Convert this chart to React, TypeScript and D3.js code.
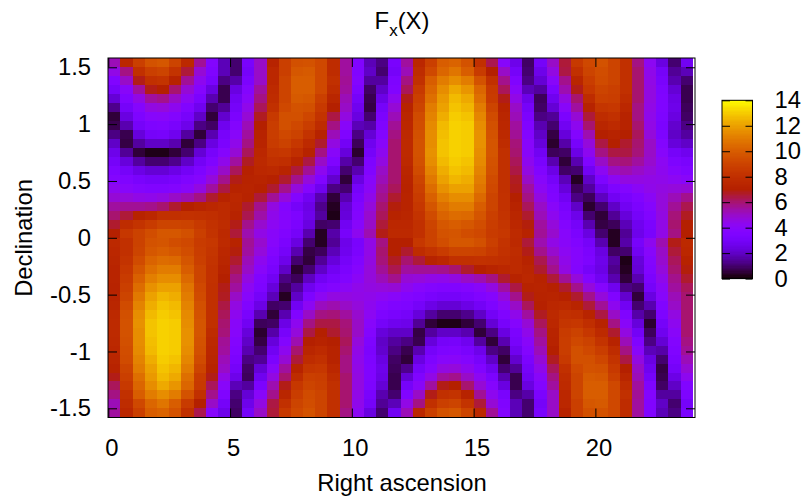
import {useEffect, useRef} from "react";
import * as d3 from "d3";

const title = "F";
const titleSub = "x";
const titleEnd = "(X)";
const xLabel = "Right ascension";
const yLabel = "Declination";

const xTicks = [0, 5, 10, 15, 20];
const yTicks = [-1.5, -1, -0.5, 0, 0.5, 1, 1.5];
const cbTicks = [0, 2, 4, 6, 8, 10, 12, 14];

// north to south, 0h to 24h
const fxRows = [
  [5.2,7.5,8.8,9.6,9.8,9,7.6,5.6,3.7,1.8,1,3.2,5,7.2,8.8,9.5,9.6,9.2,7.8,5.5,3.6,1.8,1.2,3.2,5.5,7.5,8.8,10,10.2,9.6,8,6.3,3.9,2.6,0.9,3,5,6.5,8.5,9.2,9.6,9,8,5.8,4.2,2.4,1,2.8],
  [4.5,5.8,8,8.8,9,8.2,6.5,4.8,3.5,1.8,1,3,5,7.5,8.8,9.8,9.9,9.2,7.8,5.5,3.6,2,1,3,5.2,7.8,9.2,10.3,10.8,10,8.6,7,5,3,1,2.6,4.6,6.4,8,9,9.4,9,8,6,4.4,3,1.4,1.8],
  [3.6,5,6.8,8,8.2,7.2,5.6,4.3,3.2,1.2,1.6,3.3,5,7.5,9,10,10,9.2,8,5.6,3.7,1.5,1.5,3.4,5.8,8,10,11,11.5,11,9.6,8,5.7,3.5,1.2,2.2,4,5.7,7.4,8.7,9.3,9,8,6,4.5,3.2,1.7,1],
  [3,4,5.5,6.8,7,6,4.8,3.8,2.4,0.7,2.4,3.7,5.5,7.7,9,10,10,9.2,7.8,5.5,3.4,0.9,2,3.6,6.2,8.5,10.3,11.5,12.2,11.7,10.3,8.5,6.2,4,1.8,1.5,3.3,5.3,6.8,8.4,9,8.8,8,6,4.6,3.4,2.2,0.7],
  [2.2,3.5,4.5,5.5,5.7,5,4.2,3.3,1.7,0.7,2.8,4,5.8,7.8,9,9.9,9.8,8.8,7.4,5.2,3,0.7,2.5,4.3,6.8,8.8,10.6,11.8,12.6,12.2,10.6,8.6,6.8,4.5,2.6,0.8,2.7,4.6,6,7.8,8.8,8.7,7.8,6,4.6,3.5,2.5,0.7],
  [1.3,3,3.8,4.6,4.7,4.3,3.6,2.7,1,1.4,3,4.4,6.2,8,9.2,9.6,9.5,8.5,7,5,2.7,0.6,3,4.8,7.2,9,11,12,12.8,12.5,11,9,7.2,5,3,0.9,2.2,4,5.5,7.2,8.3,8.4,7.5,5.8,4.5,3.5,2.6,0.8],
  [0.5,2.4,3.4,3.9,4,3.7,3.1,2,0.5,2.1,3.3,4.8,6.7,8.5,9.5,9.5,9.1,8.2,6.4,4.6,2.4,1,3.3,5.2,7.4,9.3,11.2,12.3,13,12.8,11.3,9.3,7.4,5.2,3.3,1.2,1.4,3.3,4.8,6.5,7.8,8,7.2,5.8,4.4,3.4,2.4,0.9],
  [0.7,1.7,3,3.4,3.5,3.2,2.6,1.2,0.9,2.7,3.7,5.2,7,8.7,9.5,9.2,8.7,7.8,5.8,4,1.8,1.6,3.5,5.6,7.5,9.4,11.4,12.6,13.1,13,11.5,9.5,7.5,5.5,3.5,1.7,1,2.8,4.3,6,7.4,7.7,7.2,6,4.5,3.3,2.1,1.2],
  [1.2,0.7,2.3,3,3.1,2.7,1.5,0.5,1.7,3.1,4,5.5,7.2,8.7,9.2,8.9,8.2,7.2,5.2,3.5,1.2,2.2,3.7,5.8,7.6,9.5,11.5,12.7,13.1,13,11.6,9.6,7.6,5.6,3.7,2,0.6,2.3,3.7,5.3,7,7.2,7,6.2,4.7,3.4,2,1.5],
  [2,0.6,1.5,2,2,1.7,0.5,1.2,2.4,3.3,4.4,5.8,7.3,8.6,8.9,8.4,7.7,6.6,4.6,2.9,0.8,2.7,4,6,7.7,9.6,11.5,12.8,13.1,13,11.6,9.7,7.8,5.9,3.9,2.3,0.4,1.6,3.1,4.7,6.4,7,6.6,6,5,3.7,2.3,2],
  [2.6,1.4,0.5,0.2,0.2,0.5,1,2.2,3.1,3.8,4.8,6.2,7.5,8.3,8.4,7.9,7.2,5.8,4,2.3,0.4,3,4.3,6,7.7,9.6,11.6,12.8,13.1,13,11.5,9.7,8,6,4,2.8,0.8,0.9,2.5,4.3,5.8,6.4,6.4,5.9,5,3.9,3,2.7],
  [3,2.3,1.5,1,1,1.3,2,2.9,3.5,4.4,5.5,6.7,7.6,8,7.9,7.3,6.4,5,3.5,1.6,1,3.4,4.6,6,7.6,9.5,11.5,12.6,13,12.8,11.4,9.6,8,6.2,4.3,3.2,1.7,0.5,1.7,3.6,5,5.8,5.9,5.5,4.9,4.2,3.4,3.2],
  [3.4,3,2.5,2.2,2.2,2.5,2.9,3.4,4.1,5,6.2,7.1,7.5,7.6,7.3,6.5,5.6,4.3,2.8,1,1.7,3.6,5,6,7.4,9.3,11.2,12.3,12.8,12.6,11.2,9.5,8,6.4,4.6,3.6,2.5,0.9,1,2.8,4.2,5.1,5.3,5,4.7,4.3,3.8,3.5],
  [3.7,3.5,3.2,3,3,3.2,3.5,3.8,4.7,5.7,6.8,7.2,7.3,7.1,6.6,5.7,4.7,3.6,2.1,0.5,2.4,3.9,5.2,6,7.3,9,10.9,12,12.5,12.3,11,9.3,8,6.7,5,3.9,3,1.8,0.3,2,3.4,4.2,4.6,4.6,4.5,4.4,4.2,4],
  [4.3,3.9,3.7,3.6,3.6,3.7,4,4.6,5.5,6.4,7.2,7.3,7.1,6.6,5.7,4.7,3.8,2.7,1.2,1,3,4.1,5.5,6.2,7.2,8.8,10.5,11.6,12,12,10.8,9.2,8,6.8,5.5,4.2,3.4,2.3,0.8,1.5,2.7,3.4,3.7,4.1,4.4,4.6,4.7,4.8],
  [4.8,4.7,4.5,4.4,4.6,5,5.3,5.8,6.6,7.2,7.5,7.2,6.5,5.6,4.7,3.7,2.8,1.7,0.5,1.7,3.3,4.4,5.7,6.6,7.3,8.6,10.1,11.1,11.5,11.5,10.4,9,8.1,7,5.8,4.6,3.6,2.8,1.2,0.8,1.9,2.8,3.2,3.6,4.1,4.7,5.2,5.7],
  [5.5,5.6,5.6,5.7,6,6.6,7,7.3,7.5,7.7,7.4,6.6,5.7,4.6,3.7,3,2.5,1.3,0.3,2.2,3.6,4.7,6,6.9,7.3,8.4,9.7,10.6,11,11,10,9,8.1,7.2,6.2,5,4,3.2,2,0.4,1,2,2.8,3.3,3.8,4.7,5.6,6.3],
  [6,6.5,7.2,7.5,8,8,8.1,8,7.9,7.7,7.2,6.3,5.4,4.4,3.8,3.4,2.6,1.5,0.2,2.3,3.7,4.9,6.2,7.2,7.4,8.2,9.3,10.2,10.5,10.4,9.7,8.8,8.2,7.4,6.6,5.2,4.3,3.4,2.6,1,0.5,1.4,2.3,3,3.6,4.6,5.9,6.7],
  [6.6,7.8,8.2,8.6,9,9,8.9,8.5,8.1,7.8,6.8,5.7,4.9,4.2,3.8,3.3,2.4,0.9,1,2.8,3.9,5,6.5,7.5,7.5,8,9,9.8,10,9.8,9.4,8.7,8.3,7.5,6.9,5.5,4.7,3.7,3,1.7,0.6,0.8,1.8,2.7,3.3,4.5,6,7],
  [7,8.4,8.9,9.4,9.8,9.8,9.5,8.8,8.2,7.6,6.5,5.3,4.5,4,3.6,3,1.7,0.3,1.6,3.1,4.3,5.3,6.8,7.6,7.6,8,8.9,9.6,9.7,9.4,9.2,8.6,8.4,7.7,7.2,5.6,4.9,3.9,3.3,2.4,1,0.3,1.4,2.6,3.2,4.5,5.8,7],
  [7.6,8,8.9,9.6,9.7,9.4,9.2,8.6,8.4,7.7,7.2,5.6,4.9,3.9,3.3,2.4,1,0.3,1.4,2.6,3.2,4.5,5.8,7,7,8.4,8.9,9.4,9.8,9.8,9.5,8.8,8.2,7.6,6.5,5.3,4.5,4,3.6,3,1.7,0.3,1.6,3.1,4.3,5.3,6.8,7.6],
  [7.5,8,9,9.8,10,9.8,9.4,8.7,8.3,7.5,6.9,5.5,4.7,3.7,3,1.7,0.6,0.8,1.8,2.7,3.3,4.5,6,7,6.6,7.8,8.2,8.6,9,9,8.9,8.5,8.1,7.8,6.8,5.7,4.9,4.2,3.8,3.3,2.4,0.9,1,2.8,3.9,5,6.5,7.5],
  [7.4,8.2,9.3,10.2,10.5,10.4,9.7,8.8,8.2,7.4,6.6,5.2,4.3,3.4,2.6,1,0.5,1.4,2.3,3,3.6,4.6,5.9,6.7,6,6.5,7.2,7.5,8,8,8.1,8,7.9,7.7,7.2,6.3,5.4,4.4,3.8,3.4,2.6,1.5,0.2,2.3,3.7,4.9,6.2,7.2],
  [7.3,8.4,9.7,10.6,11,11,10,9,8.1,7.2,6.2,5,4,3.2,2,0.4,1,2,2.8,3.3,3.8,4.7,5.6,6.3,5.5,5.6,5.6,5.7,6,6.6,7,7.3,7.5,7.7,7.4,6.6,5.7,4.6,3.7,3,2.5,1.3,0.3,2.2,3.6,4.7,6,6.9],
  [7.3,8.6,10.1,11.1,11.5,11.5,10.4,9,8.1,7,5.8,4.6,3.6,2.8,1.2,0.8,1.9,2.8,3.2,3.6,4.1,4.7,5.2,5.7,4.8,4.7,4.5,4.4,4.6,5,5.3,5.8,6.6,7.2,7.5,7.2,6.5,5.6,4.7,3.7,2.8,1.7,0.5,1.7,3.3,4.4,5.7,6.6],
  [7.2,8.8,10.5,11.6,12,12,10.8,9.2,8,6.8,5.5,4.2,3.4,2.3,0.8,1.5,2.7,3.4,3.7,4.1,4.4,4.6,4.7,4.8,4.3,3.9,3.7,3.6,3.6,3.7,4,4.6,5.5,6.4,7.2,7.3,7.1,6.6,5.7,4.7,3.8,2.7,1.2,1,3,4.1,5.5,6.2],
  [7.3,9,10.9,12,12.5,12.3,11,9.3,8,6.7,5,3.9,3,1.8,0.3,2,3.4,4.2,4.6,4.6,4.5,4.4,4.2,4,3.7,3.5,3.2,3,3,3.2,3.5,3.8,4.7,5.7,6.8,7.2,7.3,7.1,6.6,5.7,4.7,3.6,2.1,0.5,2.4,3.9,5.2,6],
  [7.4,9.3,11.2,12.3,12.8,12.6,11.2,9.5,8,6.4,4.6,3.6,2.5,0.9,1,2.8,4.2,5.1,5.3,5,4.7,4.3,3.8,3.5,3.4,3,2.5,2.2,2.2,2.5,2.9,3.4,4.1,5,6.2,7.1,7.5,7.6,7.3,6.5,5.6,4.3,2.8,1,1.7,3.6,5,6],
  [7.6,9.5,11.5,12.6,13,12.8,11.4,9.6,8,6.2,4.3,3.2,1.7,0.5,1.7,3.6,5,5.8,5.9,5.5,4.9,4.2,3.4,3.2,3,2.3,1.5,1,1,1.3,2,2.9,3.5,4.4,5.5,6.7,7.6,8,7.9,7.3,6.4,5,3.5,1.6,1,3.4,4.6,6],
  [7.7,9.6,11.6,12.8,13.1,13,11.5,9.7,8,6,4,2.8,0.8,0.9,2.5,4.3,5.8,6.4,6.4,5.9,5,3.9,3,2.7,2.6,1.4,0.5,0.2,0.2,0.5,1,2.2,3.1,3.8,4.8,6.2,7.5,8.3,8.4,7.9,7.2,5.8,4,2.3,0.4,3,4.3,6],
  [7.7,9.6,11.5,12.8,13.1,13,11.6,9.7,7.8,5.9,3.9,2.3,0.4,1.6,3.1,4.7,6.4,7,6.6,6,5,3.7,2.3,2,2,0.6,1.5,2,2,1.7,0.5,1.2,2.4,3.3,4.4,5.8,7.3,8.6,8.9,8.4,7.7,6.6,4.6,2.9,0.8,2.7,4,6],
  [7.6,9.5,11.5,12.7,13.1,13,11.6,9.6,7.6,5.6,3.7,2,0.6,2.3,3.7,5.3,7,7.2,7,6.2,4.7,3.4,2,1.5,1.2,0.7,2.3,3,3.1,2.7,1.5,0.5,1.7,3.1,4,5.5,7.2,8.7,9.2,8.9,8.2,7.2,5.2,3.5,1.2,2.2,3.7,5.8],
  [7.5,9.4,11.4,12.6,13.1,13,11.5,9.5,7.5,5.5,3.5,1.7,1,2.8,4.3,6,7.4,7.7,7.2,6,4.5,3.3,2.1,1.2,0.7,1.7,3,3.4,3.5,3.2,2.6,1.2,0.9,2.7,3.7,5.2,7,8.7,9.5,9.2,8.7,7.8,5.8,4,1.8,1.6,3.5,5.6],
  [7.4,9.3,11.2,12.3,13,12.8,11.3,9.3,7.4,5.2,3.3,1.2,1.4,3.3,4.8,6.5,7.8,8,7.2,5.8,4.4,3.4,2.4,0.9,0.5,2.4,3.4,3.9,4,3.7,3.1,2,0.5,2.1,3.3,4.8,6.7,8.5,9.5,9.5,9.1,8.2,6.4,4.6,2.4,1,3.3,5.2],
  [7.2,9,11,12,12.8,12.5,11,9,7.2,5,3,0.9,2.2,4,5.5,7.2,8.3,8.4,7.5,5.8,4.5,3.5,2.6,0.8,1.3,3,3.8,4.6,4.7,4.3,3.6,2.7,1,1.4,3,4.4,6.2,8,9.2,9.6,9.5,8.5,7,5,2.7,0.6,3,4.8],
  [6.8,8.8,10.6,11.8,12.6,12.2,10.6,8.6,6.8,4.5,2.6,0.8,2.7,4.6,6,7.8,8.8,8.7,7.8,6,4.6,3.5,2.5,0.7,2.2,3.5,4.5,5.5,5.7,5,4.2,3.3,1.7,0.7,2.8,4,5.8,7.8,9,9.9,9.8,8.8,7.4,5.2,3,0.7,2.5,4.3],
  [6.2,8.5,10.3,11.5,12.2,11.7,10.3,8.5,6.2,4,1.8,1.5,3.3,5.3,6.8,8.4,9,8.8,8,6,4.6,3.4,2.2,0.7,3,4,5.5,6.8,7,6,4.8,3.8,2.4,0.7,2.4,3.7,5.5,7.7,9,10,10,9.2,7.8,5.5,3.4,0.9,2,3.6],
  [5.8,8,10,11,11.5,11,9.6,8,5.7,3.5,1.2,2.2,4,5.7,7.4,8.7,9.3,9,8,6,4.5,3.2,1.7,1,3.6,5,6.8,8,8.2,7.2,5.6,4.3,3.2,1.2,1.6,3.3,5,7.5,9,10,10,9.2,8,5.6,3.7,1.5,1.5,3.4],
  [5.2,7.8,9.2,10.3,10.8,10,8.6,7,5,3,1,2.6,4.6,6.4,8,9,9.4,9,8,6,4.4,3,1.4,1.8,4.5,5.8,8,8.8,9,8.2,6.5,4.8,3.5,1.8,1,3,5,7.5,8.8,9.8,9.9,9.2,7.8,5.5,3.6,2,1,3],
  [5.5,7.5,8.8,10,10.2,9.6,8,6.3,3.9,2.6,0.9,3,5,6.5,8.5,9.2,9.6,9,8,5.8,4.2,2.4,1,2.8,5.2,7.5,8.8,9.6,9.8,9,7.6,5.6,3.7,1.8,1,3.2,5,7.2,8.8,9.5,9.6,9.2,7.8,5.5,3.6,1.8,1.2,3.2],
];

// gnuplot's default pm3d palette (rgbformulae 7,5,15)
function palette(t: number) {
  const r = Math.sqrt(t);
  const g = t * t * t;
  const b = Math.max(0, Math.sin(2 * Math.PI * t));
  return d3.rgb(r * 255, g * 255, b * 255).formatHex();
}

const textFont = "Liberation Sans, Arial, sans-serif";
const textSize = 23.8;

export default function App() {
  const ref = useRef<SVGSVGElement>(null);

  useEffect(() => {
    const svg = d3.select(ref.current);
    svg.selectAll("*").remove();

    const box = {left: 108, right: 695, top: 58, bottom: 417.5};
    const x = d3.scaleLinear().domain([0, 24]).range([108.3, 692.8]);
    const y = d3.scaleLinear().domain([-1.58, 1.58]).range([417.4, 58.2]);
    const color = d3.scaleLinear().domain([0, 14]).range([0, 1]).clamp(true);

    const nRows = fxRows.length;
    const nCols = fxRows[0].length;
    const edge = 1.58;
    const decAt = d3.scaleLinear().domain([0, nRows]).range([edge, -edge]);
    const raAt = d3.scaleLinear().domain([0, nCols]).range([0, 24]);

    const cells = svg.append("g").attr("shape-rendering", "crispEdges");
    fxRows.forEach((row, j) => {
      row.forEach((v, i) => {
        cells.append("rect")
        .attr("x", x(raAt(i)))
        .attr("y", y(decAt(j)))
        .attr("width", x(raAt(i + 1)) - x(raAt(i)) + 0.5)
        .attr("height", y(decAt(j + 1)) - y(decAt(j)) + 0.5)
        .attr("fill", palette(color(v)));
      });
    });

    const styleAxis = (g: any) => {
      g.select(".domain").remove();
      g.selectAll("line").attr("stroke", "#000").attr("stroke-width", 1);
      g.selectAll("text")
      .attr("font-family", textFont)
      .attr("font-size", textSize)
      .attr("fill", "#000");
    };

    svg.append("g")
    .attr("transform", `translate(0, ${box.bottom})`)
    .call(d3.axisBottom(x).tickValues(xTicks).tickSizeInner(-9).tickPadding(22).tickFormat(d3.format("d")))
    .call(styleAxis)
    .selectAll("text").attr("dx", 3);

    svg.append("g")
    .attr("transform", `translate(0, ${box.top})`)
    .call(d3.axisTop(x).tickValues(xTicks).tickSizeInner(-9).tickFormat(() => ""))
    .call(styleAxis);

    svg.append("g")
    .attr("transform", `translate(${box.left}, 0)`)
    .call(d3.axisLeft(y).tickValues(yTicks).tickSizeInner(-9).tickPadding(17).tickFormat((d) => String(d)))
    .call(styleAxis);

    svg.append("g")
    .attr("transform", `translate(${box.right}, 0)`)
    .call(d3.axisRight(y).tickValues(yTicks).tickSizeInner(-9).tickFormat(() => ""))
    .call(styleAxis);

    svg.append("rect")
    .attr("x", box.left)
    .attr("y", box.top)
    .attr("width", box.right - box.left)
    .attr("height", box.bottom - box.top)
    .attr("fill", "none")
    .attr("stroke", "#000");

    // colour box
    const cb = {left: 722, right: 752.5};
    const cbY = d3.scaleLinear().domain([0, 14]).range([278.6, 100.3]);
    const cbG = svg.append("g").attr("shape-rendering", "crispEdges");
    d3.range(0, 14, 0.1).forEach((v) => {
      cbG.append("rect")
      .attr("x", cb.left)
      .attr("y", cbY(v + 0.1))
      .attr("width", cb.right - cb.left)
      .attr("height", cbY(v) - cbY(v + 0.1) + 0.5)
      .attr("fill", palette(color(v)));
    });

    svg.append("g")
    .attr("transform", `translate(${cb.left}, 0)`)
    .call(d3.axisLeft(cbY).tickValues(cbTicks).tickSizeInner(-8).tickFormat(() => ""))
    .call(styleAxis);

    svg.append("g")
    .attr("transform", `translate(${cb.right}, 0)`)
    .call(d3.axisLeft(cbY).tickValues(cbTicks).tickSizeInner(7).tickFormat(() => ""))
    .call(styleAxis);

    svg.append("g")
    .attr("transform", `translate(${cb.right}, 0)`)
    .call(d3.axisRight(cbY).tickValues(cbTicks).tickSize(0).tickPadding(22).tickFormat(d3.format("d")))
    .call(styleAxis);

    svg.append("rect")
    .attr("x", cb.left)
    .attr("y", cbY(14))
    .attr("width", cb.right - cb.left)
    .attr("height", cbY(0) - cbY(14))
    .attr("fill", "none")
    .attr("stroke", "#000");

    // labels
    const titleText = svg.append("text")
    .attr("x", 402)
    .attr("y", 28.5)
    .attr("text-anchor", "middle")
    .attr("font-family", textFont)
    .attr("font-size", textSize);
    titleText.append("tspan").text(title);
    titleText.append("tspan").attr("font-size", 17).attr("dy", 7).text(titleSub);
    titleText.append("tspan").attr("dy", -7).text(titleEnd);

    svg.append("text")
    .attr("x", 402)
    .attr("y", 491)
    .attr("text-anchor", "middle")
    .attr("font-family", textFont)
    .attr("font-size", textSize)
    .text(xLabel);

    svg.append("text")
    .attr("transform", "translate(32, 238) rotate(-90)")
    .attr("text-anchor", "middle")
    .attr("font-family", textFont)
    .attr("font-size", textSize)
    .text(yLabel);
  }, []);

  return <svg ref={ref} width={803} height={500} style={{position: "absolute", left: 0, top: 0, display: "block"}}/>;
}
